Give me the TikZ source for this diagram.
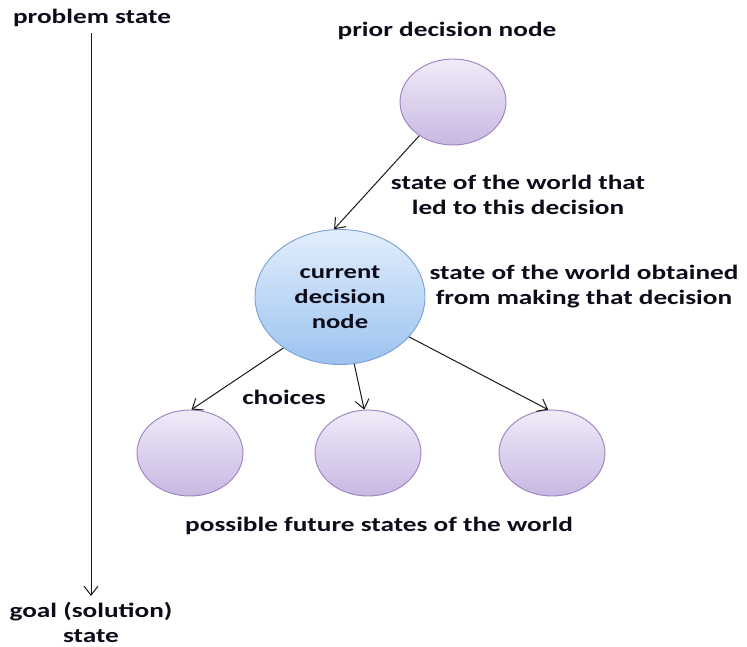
\documentclass[tikz,border=0pt]{standalone}
\usepackage{fontspec}
\setmainfont{Carlito}
\newfontfamily\widefont[FakeStretch=1.33]{Carlito}
\usetikzlibrary{arrows.meta,shapes.geometric}
\definecolor{txt}{HTML}{0C0C1A}
\definecolor{lavtop}{HTML}{F0EBF8}
\definecolor{lavbot}{HTML}{C8B8E2}
\definecolor{lavline}{HTML}{9A80C0}
\definecolor{bluetop}{HTML}{E2EEFC}
\definecolor{bluebot}{HTML}{9CC2F0}
\definecolor{blueline}{HTML}{78A0D6}
\tikzset{
  state/.style={ellipse, draw=lavline, line width=0.9pt, top color=lavtop, bottom color=lavbot,
    minimum width=106pt, minimum height=86pt, inner sep=0pt},
  current/.style={ellipse, draw=blueline, line width=0.9pt, top color=bluetop, bottom color=bluebot,
    minimum width=170pt, minimum height=135pt, inner sep=0pt, align=center,
    font=\widefont\bfseries\fontsize{20}{25}\selectfont, text=txt},
  lbl/.style={font=\widefont\bfseries\fontsize{20.5}{25}\selectfont, text=txt, inner sep=0pt},
  link/.style={draw=black!90, line width=1pt, -{Straight Barb[length=9pt,width=14pt,line width=1pt]}}
}
\begin{document}
\begin{tikzpicture}[x=1pt,y=-1pt]
\useasboundingbox (0,0) rectangle (747,646);
% decision nodes
\node[state] (prior) at (453,102) {};
\node[current] (cur) at (340,297) {current\\decision\\node};
\node[state] (left) at (190,453) {};
\node[state] (mid) at (368,453) {};
\node[state] (right) at (552,453) {};
% labels
\node[lbl] (ps) at (92,18) {problem state};
\node[lbl, align=center] (gs) at (91,622) {goal (solution)\\state};
\node[lbl] at (447,31) {prior decision node};
\node[lbl, align=center] at (518,195) {state of the world that\\led to this decision};
\node[lbl, align=center] at (584,287) {state of the world obtained\\from making that decision};
\node[lbl] at (284,397) {choices};
\node[lbl] at (379,526) {possible future states of the world};
% connectors
\coordinate (top) at (91,33);
\coordinate (bot) at (91,596);
\draw[link] (top) -- (bot);
\draw[link] (prior.225) -- (cur.95);
\draw[link] (cur.222) -- (left.88);
\draw[link] (cur.282) -- (mid.95);
\draw[link] (cur.330) -- (right.95);
\end{tikzpicture}
\end{document}
